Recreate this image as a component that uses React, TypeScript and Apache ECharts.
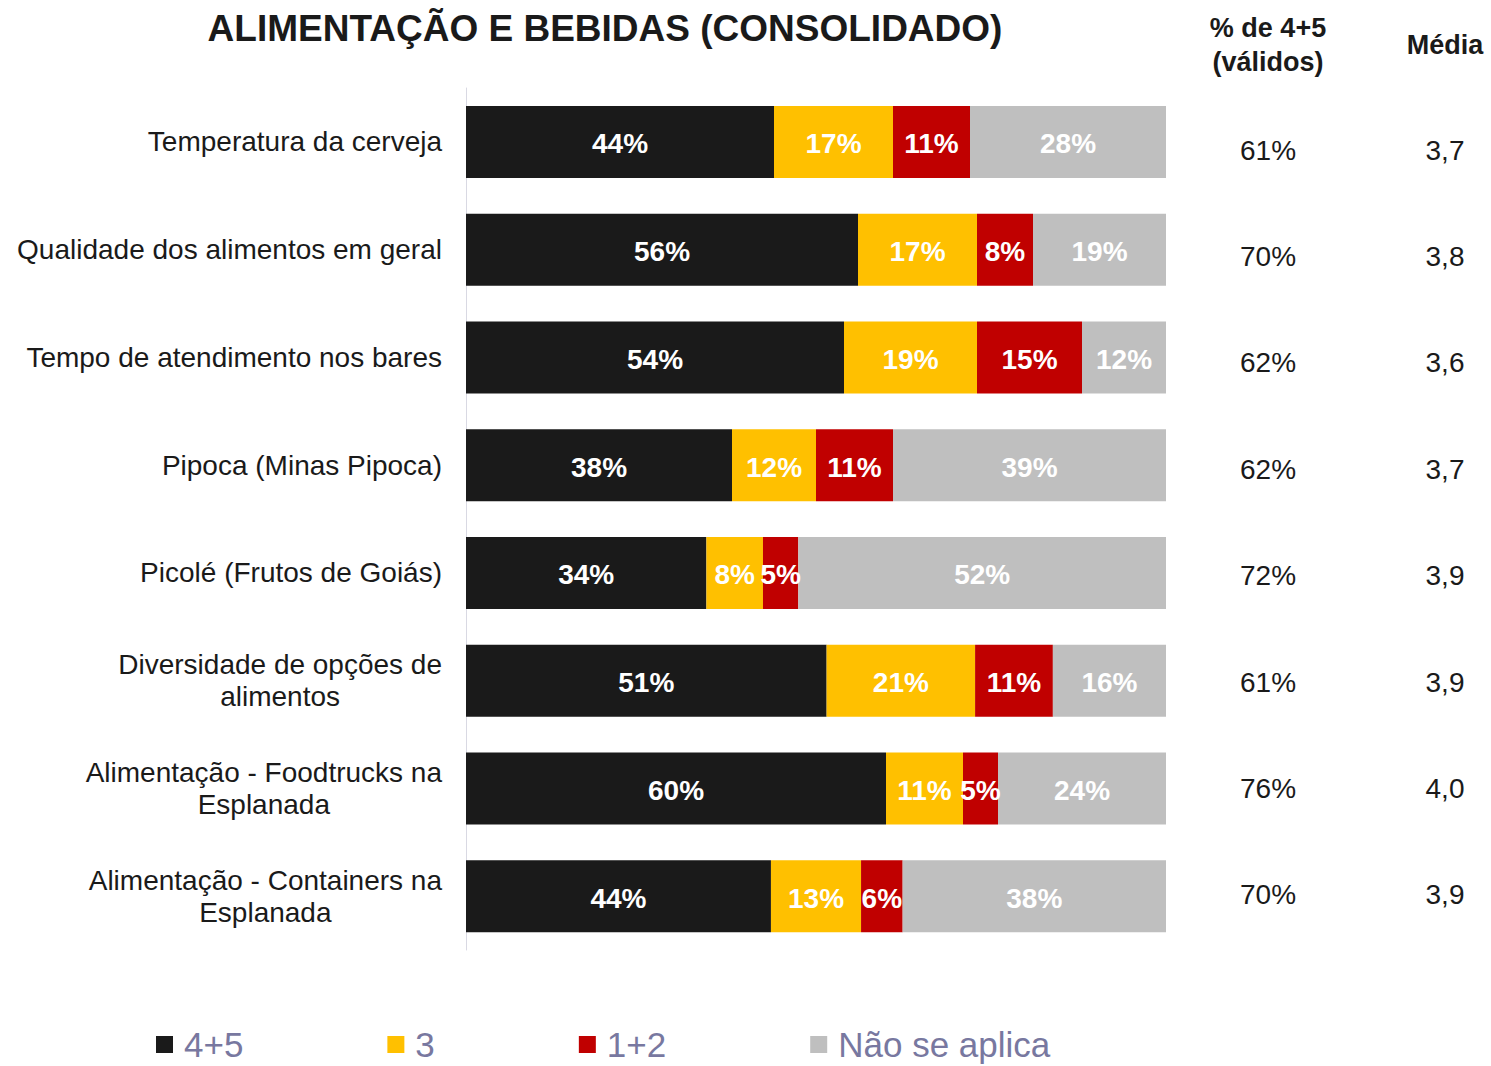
import React, { useEffect, useRef } from "react";
import * as echarts from "echarts";

const FONT = '"Liberation Sans", Arial, Helvetica, sans-serif';

const categories = [
  "Temperatura da cerveja",
  "Qualidade dos alimentos em geral",
  "Tempo de atendimento nos bares",
  "Pipoca (Minas Pipoca)",
  "Picolé (Frutos de Goiás)",
  "Diversidade de opções de\nalimentos",
  "Alimentação - Foodtrucks na\nEsplanada",
  "Alimentação - Containers na\nEsplanada",
];

const seriesNames = ["4+5", "3", "1+2", "Não se aplica"];
const top2 = [44, 56, 54, 38, 34, 51, 60, 44];
const mid3 = [17, 17, 19, 12, 8, 21, 11, 13];
const bottom2 = [11, 8, 15, 11, 5, 11, 5, 6];
const notApplicable = [28, 19, 12, 39, 52, 16, 24, 38];

const pctValid = ["61%", "70%", "62%", "62%", "72%", "61%", "76%", "70%"];
const media = ["3,7", "3,8", "3,6", "3,7", "3,9", "3,9", "4,0", "3,9"];

const colors = ["#1a1a1a", "#ffc000", "#c00000", "#bfbfbf"];

export default function App() {
  const ref = useRef<HTMLDivElement>(null);

  useEffect(() => {
    document.body.style.margin = "0";
    document.body.style.overflow = "hidden";
    if (!ref.current) return;
    const chart = echarts.init(ref.current, null, { renderer: "svg" });

    const raw = [top2, mid3, bottom2, notApplicable];
    const sums = categories.map((_, i) => raw.reduce((s, arr) => s + arr[i], 0));

    const series = raw.map((arr, si) => ({
      name: seriesNames[si],
      type: "bar",
      stack: "total",
      xAxisIndex: 0,
      yAxisIndex: 0,
      barWidth: 72,
      itemStyle: { color: colors[si] },
      label: {
        show: true,
        position: "inside",
        offset: [0, 2],
        color: "#ffffff",
        fontFamily: FONT,
        fontWeight: "bold",
        fontSize: 28,
        formatter: (p: any) => arr[p.dataIndex] + "%",
      },
      data: arr.map((v, i) => (v / sums[i]) * 100),
    }));

    const option: any = {
      animation: false,
      backgroundColor: "#ffffff",
      grid: [
        { left: 466, right: 325, top: 88, bottom: 116 },
        { left: 466, right: 325, top: 97, bottom: 118 },
      ],
      xAxis: [
        { type: "value", gridIndex: 0, min: 0, max: 100, show: false },
        { type: "value", gridIndex: 1, min: 0, max: 100, show: false },
      ],
      yAxis: [
        {
          type: "category",
          gridIndex: 0,
          inverse: true,
          data: categories,
          axisLine: { show: true, lineStyle: { color: "#d9d9e3", width: 1 } },
          axisTick: { show: false },
          axisLabel: {
            margin: 24,
            align: "right",
            fontFamily: FONT,
            fontSize: 28,
            color: "#1a1a1a",
            lineHeight: 32,
            formatter: (v: string) =>
              v.indexOf("\n") >= 0
                ? v
                    .split("\n")
                    .map((l) => "{c|" + l + "}")
                    .join("\n")
                : v,
            rich: {
              c: {
                align: "center",
                fontFamily: FONT,
                fontSize: 28,
                color: "#1a1a1a",
                lineHeight: 32,
              },
            },
          },
        },
        {
          type: "category",
          gridIndex: 1,
          inverse: true,
          position: "right",
          data: pctValid,
          axisLine: { show: false },
          axisTick: { show: false },
          axisLabel: {
            margin: 102,
            align: "center",
            fontFamily: FONT,
            fontSize: 28,
            color: "#1a1a1a",
          },
        },
        {
          type: "category",
          gridIndex: 1,
          inverse: true,
          position: "right",
          data: media,
          axisLine: { show: false },
          axisTick: { show: false },
          axisLabel: {
            margin: 279,
            align: "center",
            fontFamily: FONT,
            fontSize: 28,
            color: "#1a1a1a",
          },
        },
      ],
      legend: {
        data: seriesNames,
        left: 156,
        top: 1027,
        padding: 0,
        icon: "rect",
        itemWidth: 17,
        itemHeight: 17,
        itemGap: 144,
        textStyle: {
          fontFamily: FONT,
          fontSize: 35,
          lineHeight: 34,
          color: "#7878a0",
          padding: [0, 0, 0, 6],
        },
      },
      graphic: [
        {
          type: "text",
          x: 605,
          y: 28,
          style: {
            text: "ALIMENTAÇÃO E BEBIDAS (CONSOLIDADO)",
            fontFamily: FONT,
            fontWeight: "bold",
            fontSize: 37,
            fill: "#1a1a1a",
            align: "center",
            verticalAlign: "middle",
          },
        },
        {
          type: "text",
          x: 1268,
          y: 45,
          style: {
            text: "% de 4+5\n(válidos)",
            fontFamily: FONT,
            fontWeight: "bold",
            fontSize: 27,
            lineHeight: 34,
            fill: "#1a1a1a",
            align: "center",
            verticalAlign: "middle",
          },
        },
        {
          type: "text",
          x: 1445,
          y: 45,
          style: {
            text: "Média",
            fontFamily: FONT,
            fontWeight: "bold",
            fontSize: 27,
            fill: "#1a1a1a",
            align: "center",
            verticalAlign: "middle",
          },
        },
      ],
      series,
    };

    chart.setOption(option);
    return () => chart.dispose();
  }, []);

  return <div ref={ref} style={{ width: 1491, height: 1066 }} />;
}
